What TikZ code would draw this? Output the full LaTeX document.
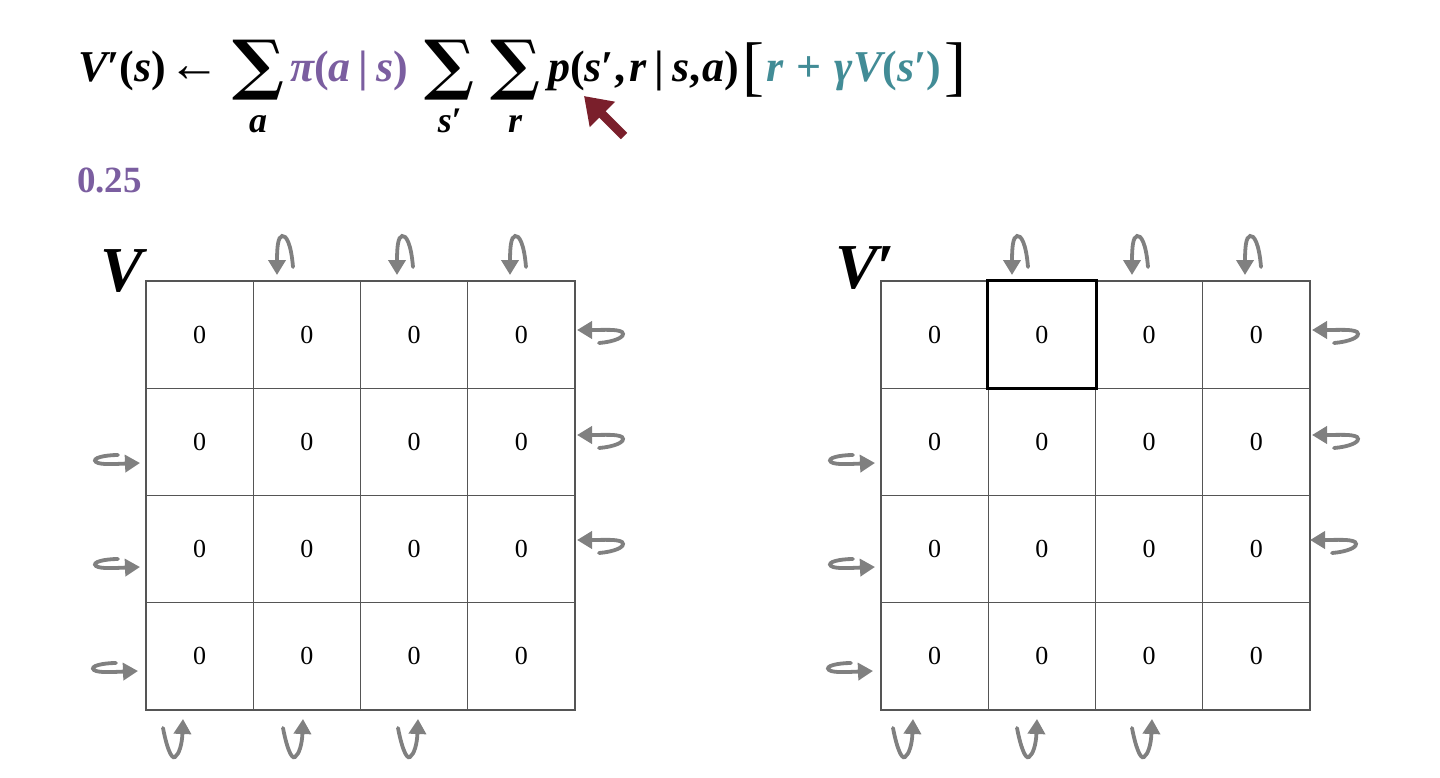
\documentclass[tikz,border=0pt]{standalone}
\usepackage{fontspec}
\usepackage{graphicx}
\setmainfont{Liberation Serif}
\newfontfamily\sumfont{DejaVu Serif}
\usetikzlibrary{arrows.meta}
\definecolor{eqpurple}{RGB}{123,94,160}
\definecolor{eqteal}{RGB}{66,140,150}
\definecolor{darkred}{RGB}{122,31,43}
\definecolor{arrgray}{RGB}{128,128,128}
\definecolor{gridgray}{RGB}{85,85,85}
\begin{document}
\begin{tikzpicture}[x=1pt,y=-1pt,
  eq/.style={font=\fontsize{44}{44}\selectfont\bfseries, inner sep=0pt, anchor=base west},
  sub/.style={font=\fontsize{36}{36}\selectfont\bfseries\itshape, inner sep=0pt, anchor=base},
  sumsym/.style={inner sep=0pt},
  cell/.style={draw=gridgray, line width=1.2pt, minimum size=107.25pt, inner sep=0pt, font=\fontsize{26}{26}\selectfont},
  ua/.style={draw=arrgray, line width=3.8pt, line cap=round, -{Triangle[length=15pt,width=17pt]}},
  bigV/.style={font=\fontsize{64}{64}\selectfont\bfseries\itshape, inner sep=0pt, anchor=base west}]
\useasboundingbox[fill=white] (0,0) rectangle (1440,778);

% equation
\node[eq] (lhs) at (78,82) {\itshape V\upshape′(\itshape s\upshape)};
\node[eq, font=\fontsize{44}{44}\selectfont] (larr) at (168,82) {\resizebox{52pt}{!}{←}};
\node[sumsym] (sum1) at (259,70) {\resizebox*{52pt}{60pt}{\sumfont\bfseries ∑}};
\node[sub] (suba) at (258,133) {a};
\node[eq, text=eqpurple] (pi) at (290,82) {\itshape π\upshape(\itshape a\upshape\hspace{0.18em}|\hspace{0.18em}\itshape s\upshape)};
\node[sumsym] (sum2) at (450,70) {\resizebox*{50pt}{60pt}{\sumfont\bfseries ∑}};
\node[sub] (subs) at (450,133) {s\upshape′};
\node[sumsym] (sum3) at (515,70) {\resizebox*{50pt}{60pt}{\sumfont\bfseries ∑}};
\node[sub] (subr) at (515,133) {r};
\node[eq] (pterm) at (548,82) {\itshape p\upshape(\itshape s\upshape′,\hspace{0.1em}\itshape r\upshape\hspace{0.18em}|\hspace{0.18em}\itshape s\upshape,\hspace{0.05em}\itshape a\upshape)};
\node[sumsym, font=\fontsize{66}{66}\selectfont] (lbr) at (753,70) {[};
\node[eq, text=eqteal] (val) at (766,82) {\itshape r\upshape\hspace{0.3em}+\hspace{0.3em}\itshape γV\upshape(\itshape s\upshape′)};
\node[sumsym, font=\fontsize{66}{66}\selectfont] (rbr) at (955,70) {]};

% red pointer
\coordinate (redtail) at (624,136);
\coordinate (redtip) at (584,96);
\draw[darkred, line width=9pt, -{Triangle[length=26pt,width=34pt]}] (redtail) -- (redtip);

\node[font=\fontsize{37}{37}\selectfont\bfseries, text=eqpurple, anchor=base west, inner sep=0pt] (prob) at (77,193) {0.25};

% labels
\node[bigV] (VL) at (100,291) {V};
\node[bigV] (VR) at (835,288) {V\upshape′};

% grids
\foreach \r in {1,...,4} {
  \foreach \c in {1,...,4} {
    \node[cell] (L\r\c) at ({146+107.25*(\c-0.5)},{281+107.25*(\r-0.5)}) {0};
    \node[cell] (R\r\c) at ({881+107.25*(\c-0.5)},{281+107.25*(\r-0.5)}) {0};
  }
}
\draw[line width=3pt] (R12.north west) rectangle (R12.south east);

% wall arrows: top
\foreach \X in {277,397,510,1012,1132,1245} {
  \draw[ua, shift={(\X,275)}] (16,-8) .. controls (14,-32) and (9,-40) .. (5,-39) .. controls (1,-38) and (0,-28) .. (0,0);
}
% right side
\foreach \X/\Y in {577/330,577/435,577/540,1312/330,1312/435,1310/540} {
  \draw[ua, shift={(\X,\Y)}] (22,13) .. controls (36,12) and (50,7) .. (45,2) .. controls (40,-1) and (28,0) .. (0,0);
}
% left side
\foreach \X/\Y in {140/463,140/567,138/671,875/463,875/567,873/671} {
  \draw[ua, shift={(\X,\Y)}] (-22,-8) .. controls (-35,-8) and (-49,-5) .. (-44,-1) .. controls (-40,2) and (-25,1) .. (0,0);
}
% bottom
\foreach \X in {183,303,418,913,1037,1152} {
  \draw[ua, shift={(\X,719)}] (-20,9) .. controls (-17,25) and (-12,41) .. (-8,38) .. controls (-4,35) and (-1,26) .. (0,0);
}
\end{tikzpicture}
\end{document}
